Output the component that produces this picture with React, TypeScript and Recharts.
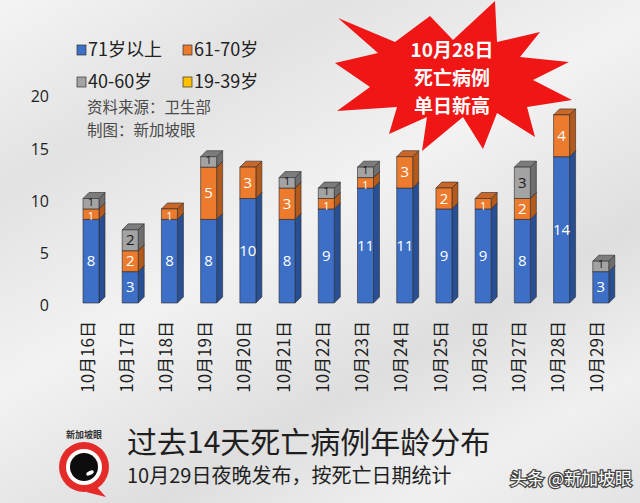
import { Bar, BarChart, LabelList, XAxis, YAxis } from "recharts";

// 过去14天死亡病例年龄分布（按死亡日期）
const DATES = [
  "10月16日", "10月17日", "10月18日", "10月19日", "10月20日", "10月21日", "10月22日",
  "10月23日", "10月24日", "10月25日", "10月26日", "10月27日", "10月28日", "10月29日",
];
const AGE_71_PLUS = [8, 3, 8, 8, 10, 8, 9, 11, 11, 9, 9, 8, 14, 3];
const AGE_61_70 = [1, 2, 1, 5, 3, 3, 1, 1, 3, 2, 1, 2, 4, 0];
const AGE_40_60 = [1, 2, 0, 1, 0, 1, 1, 1, 0, 0, 0, 3, 0, 1];
const AGE_19_39 = [0, 0, 0, 0, 0, 0, 0, 0, 0, 0, 0, 0, 0, 0];
const Y_TICKS = [0, 5, 10, 15, 20];

const SERIES = [
  { key: "a71", name: "71岁以上", fill: "#3d6fc6", side: "#284f93", top: "#5a86d2", text: "#ffffff", nudge: 0 },
  { key: "a61", name: "61-70岁", fill: "#ec7b2d", side: "#b3591c", top: "#c9662a", text: "#ffffff", nudge: 2 },
  { key: "a40", name: "40-60岁", fill: "#a3a3a3", side: "#6e6e6e", top: "#7c7c7c", text: "#1a1a1a", nudge: -2 },
  { key: "a19", name: "19-39岁", fill: "#ffc000", side: "#c79500", top: "#e0a800", text: "#1a1a1a", nudge: -2 },
];

const data = DATES.map((date, i) => ({
  date,
  a71: AGE_71_PLUS[i],
  a61: AGE_61_70[i],
  a40: AGE_40_60[i],
  a19: AGE_19_39[i],
}));

const DEPTH = 6;
const CJK = '"Noto Sans CJK SC", "Noto Sans", sans-serif';
const NUM = '"Open Sans", "Noto Sans", sans-serif';

function Box3D(props: any) {
  const { x, y, width, height, fill, side, top } = props;
  if (!height || height <= 0) return null;
  const d = DEPTH;
  const r = x + width;
  const b = y + height;
  return (
    <g stroke="#2a2a2a" strokeWidth={0.6} strokeLinejoin="round">
      <polygon points={`${r},${y} ${r + d},${y - d} ${r + d},${b - d} ${r},${b}`} fill={side} />
      <polygon points={`${x},${y} ${x + d},${y - d} ${r + d},${y - d} ${r},${y}`} fill={top} />
      <rect x={x} y={y} width={width} height={height} fill={fill} />
    </g>
  );
}

// starburst outline around the 10月28日 note
const STAR = [
  [338, 18], [395, 42], [430, 16], [453, 40], [495, 1], [497, 42], [540, 32], [520, 57],
  [569, 62], [533, 80], [572, 100], [527, 107], [535, 137], [497, 113], [483, 149], [463, 117],
  [422, 151], [427, 117], [389, 134], [397, 107], [337, 111], [370, 87], [335, 63], [378, 53],
];

export default function App() {
  return (
    <div
      style={{
        position: "relative",
        width: 640,
        height: 503,
        overflow: "hidden",
        background:
          "linear-gradient(150deg, #f4f4f4 0%, #e2e2e2 22%, #f2f2f2 45%, #dedede 68%, #f0f0f0 85%, #e3e3e3 100%)",
      }}
    >
      <style>{`body{margin:0}`}</style>
      <BarChart
        width={640}
        height={503}
        data={data}
        margin={{ top: 94, right: 20, bottom: 0, left: 0 }}
        barSize={16}
      >
        <YAxis
          type="number"
          domain={[0, 20]}
          ticks={Y_TICKS}
          width={71}
          axisLine={false}
          tickLine={false}
          tick={(p: any) => (
            <text
              x={49}
              y={p.y + 4}
              textAnchor="end"
              dominantBaseline="middle"
              fontSize={16}
              fontFamily={NUM}
              fill="#1e1e1e"
            >
              {p.payload.value}
            </text>
          )}
        />
        <XAxis
          dataKey="date"
          height={200}
          axisLine={false}
          tickLine={false}
          interval={0}
          tick={(p: any) => (
            <text
              transform={`translate(${p.x + 3},321) rotate(-90)`}
              textAnchor="end"
              fontSize={17}
              fontFamily={CJK}
              fill="#1e1e1e"
            >
              {p.payload.value}
            </text>
          )}
        />
        {SERIES.map((s) => (
          <Bar
            key={s.key}
            dataKey={s.key}
            name={s.name}
            stackId="age"
            fill={s.fill}
            isAnimationActive={false}
            shape={(p: any) => <Box3D {...p} fill={s.fill} side={s.side} top={s.top} />}
          >
            <LabelList
              dataKey={s.key}
              content={(p: any) => {
                if (!p.value) return null;
                const small = p.height < 14;
                return (
                  <text
                    x={p.x + p.width / 2}
                    y={p.y + p.height / 2 + 1 + (small ? s.nudge : 0)}
                    textAnchor="middle"
                    dominantBaseline="middle"
                    fontSize={small ? 11 : 15}
                    fontFamily={NUM}
                    fill={s.text}
                  >
                    {p.value}
                  </text>
                );
              }}
            />
          </Bar>
        ))}
      </BarChart>

      <svg
        width={640}
        height={503}
        style={{ position: "absolute", left: 0, top: 0, pointerEvents: "none" }}
      >
        {/* legend */}
        {SERIES.map((s, i) => {
          const lx = i % 2 === 0 ? 77 : 183;
          const ly = i < 2 ? 50 : 82;
          return (
            <g key={s.key}>
              <rect x={lx} y={ly - 5} width={9} height={10} fill={s.fill} stroke="#333" strokeWidth={0.7} />
              <text x={lx + 11} y={ly + 1} dominantBaseline="middle" fontSize={18} fontFamily={CJK} fill="#222">
                {s.name}
              </text>
            </g>
          );
        })}
        <text x={87} y={109} dominantBaseline="middle" fontSize={15.5} fontFamily={CJK} fill="#4a4a4a">
          资料来源：卫生部
        </text>
        <text x={87} y={132} dominantBaseline="middle" fontSize={15.5} fontFamily={CJK} fill="#4a4a4a">
          制图：新加坡眼
        </text>

        {/* starburst */}
        <polygon points={STAR.map((p) => p.join(",")).join(" ")} fill="#f01616" />
        <g fontFamily={CJK} fontWeight={700} fontSize={19} fill="#ffffff" textAnchor="middle">
          <text x={452} y={57}>10月28日</text>
          <text x={452} y={85}>死亡病例</text>
          <text x={452} y={113}>单日新高</text>
        </g>

        {/* logo */}
        <text x={84} y={438} textAnchor="middle" fontSize={9} fontWeight={700} fontFamily={CJK} fill="#333">
          新加坡眼
        </text>
        <polygon points="96,486 106,497 86,492" fill="#e52a2a" />
        <circle cx={84} cy={467} r={25} fill="#e52a2a" />
        <circle cx={84} cy={467} r={18} fill="#ffffff" />
        <circle cx={84} cy={467} r={14} fill="#0d0d0d" />
        <ellipse cx={90} cy={473} rx={4} ry={2} fill="#ffffff" transform="rotate(-25 90 473)" />

        {/* titles */}
        <text x={127} y={445} dominantBaseline="middle" fontSize={30} fontFamily={CJK} fill="#1f1f1f">
          过去14天死亡病例年龄分布
        </text>
        <text x={127} y={478} dominantBaseline="middle" fontSize={20} fontFamily={CJK} fill="#1f1f1f">
          10月29日夜晚发布，按死亡日期统计
        </text>
        <text
          x={632}
          y={480}
          textAnchor="end"
          dominantBaseline="middle"
          fontSize={17}
          fontFamily={CJK}
          fill="#ffffff"
          stroke="#444"
          strokeWidth={2.5}
          paintOrder="stroke"
        >
          头条 @新加坡眼
        </text>
      </svg>
    </div>
  );
}
